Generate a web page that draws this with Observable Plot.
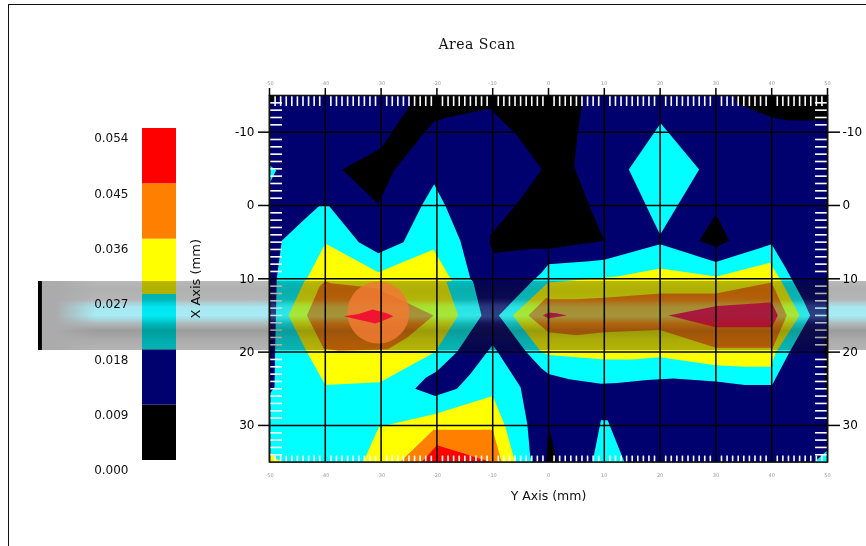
<!DOCTYPE html>
<html>
<head>
<meta charset="utf-8">
<script src="https://cdn.jsdelivr.net/npm/d3@7"></script>
<script src="https://cdn.jsdelivr.net/npm/@observablehq/plot@0.6"></script>
<style>
html,body{margin:0;padding:0;background:#fff;overflow:hidden}
#stage{position:relative;width:866px;height:546px;overflow:hidden;background:#fff;filter:blur(.45px)}
#stage svg{position:absolute;left:0;top:0;background:transparent}
#edge{position:absolute;left:8px;top:4px;right:0;bottom:0;border-left:1.6px solid #111;border-top:1.6px solid #111}
#title{position:absolute;left:0;width:954px;top:36px;text-align:center;font:14px "DejaVu Serif";letter-spacing:.5px;color:#111}
</style>
</head>
<body>
<div id="stage"><div id="edge"></div><div id="title">Area Scan</div></div>
<script>
// ---- data (X = scan axis along the bottom, Y = depth axis)
const levelBreaks = [0, 0.009, 0.018, 0.027, 0.036, 0.045, 0.054];
const levelColors = ["#000000", "#00006e", "#00ffff", "#ffff00", "#ff8000", "#ff0000"];
const majorX = [-50,-40,-30,-20,-10,0,10,20,30,40,50];
const majorY = [-10,0,10,20,30];
const minorX = d3.range(-49,50).filter(d => d % 10 !== 0);
const minorY = d3.range(-14,35).filter(d => d % 10 !== 0);

const blackTop = [[-25,-15],[-24.8,-13.7],[-30,-7.8],[-37,-4.9],[-30.5,-0.2],[-27.8,-4.6],[-22.7,-9.5],[-20.6,-11.4],[-18.2,-12],[-10.5,-13.2],[-5.7,-9.6],[-1.2,-4.9],[-5.7,-0.2],[-10.5,4.1],[-10.5,5.2],[-9.9,6.5],[-2.7,5.9],[0.2,5.9],[4.6,5.4],[10,4.8],[7.3,0],[4.6,-5.3],[5.2,-9.6],[6,-13.7],[6,-15]];
const blackTopRight = [[33,-15],[34.4,-13.7],[40,-12],[43,-11.6],[50,-11.6],[50,-15]];
const blackCorner = [[-50,-15],[-48,-15],[-50,-13.8]];
const blackSmall = [[30,1.2],[27,4.8],[30,5.7],[32.4,4.8]];
const blackFoot = [[0,30],[1.6,35],[-0.4,35]];
const blackEdge = [[49.5,18],[50,18],[50,25],[49.5,25]];

const cyanSpeck = [[-50,-5.5],[-48.8,-4.8],[-50,-3]];
const cyanDiamond = [[20.1,-11.2],[14.4,-4.9],[20,4],[27,-4.9]];
const cyanPeak = [[9.4,29.3],[10.6,29.3],[13.6,35],[7.9,35]];
const cyanCorner = [[47.7,35],[50,33.4],[50,35]];
const cyanLeft = [[-50,25.7],[-49.1,24.8],[-49,20],[-48.7,10],[-47.8,4.8],[-43.9,2],[-41,0],[-39.4,0],[-34,5],[-30.5,6.5],[-26,5],[-22.7,0],[-20.5,-2.9],[-18.5,0],[-15.8,4.8],[-14,10],[-13.5,10.4],[-12,15],[-16.4,20],[-20,22.6],[-22,23.5],[-23.9,25],[-20.3,26],[-16.4,25],[-14,23],[-10,19],[-9.1,20],[-5,24.8],[-3.8,29.8],[-3.3,34],[-3,35],[-50,35]];
const cyanRight = [[-3,10.4],[-1.3,9.2],[0,8],[7.3,7.6],[10,7.4],[20,5.3],[30,7.7],[40,5.3],[42.4,8.4],[45.7,13],[46.9,15],[43.2,20],[40.2,24.3],[40,24.5],[35.2,24.5],[30,24],[22.4,23.6],[17.7,23.8],[12.3,24.2],[9.4,24.3],[3.7,23.7],[0,23],[-1.3,22.2],[-4,20],[-8.9,15]];

const yellowLeft = [[-43.3,10],[-40,5.2],[-30.5,9.1],[-20.6,6],[-17.3,10.3],[-18.3,10.4],[-16.2,15],[-20.3,20],[-30.2,24.1],[-40,24.5],[-43.3,20],[-46.6,15],[-43.8,10.4]];
const yellowRight = [[-6.4,15],[-0.6,10.9],[0,10.5],[12.3,9.7],[20,8.6],[30.1,9.7],[39.7,7.8],[41.7,10.3],[45,15],[40.8,20],[39.8,22],[35.2,22],[29.9,21.8],[20,20.7],[15,21],[10,21],[5,20.7],[0,20.4],[-1.3,20]];
const yellowBottom = [[-33.2,35],[-30.4,30.2],[-20.2,28.4],[-10,26],[-7.8,30],[-6,35]];
const yellowCorner = [[-50,33.6],[-48.9,34.5],[-47.5,35],[-50,35]];

const orangeLeft = [[-40,10.3],[-39,10.6],[-30.8,11.3],[-20.6,15],[-25.3,18],[-28.8,19.6],[-37.6,19.8],[-40.3,19.5],[-43.3,15],[-41,11]];
const orangeRight = [[-3.6,15],[-0.4,12.6],[0,12.8],[5,12.8],[10,12.6],[20,12],[30,12],[40,10.5],[42.7,15],[40.2,19.4],[30,19.4],[24.2,18],[20,17],[10,17.3],[5,17.7],[0,17.3]];
const orangeBottom = [[-26.6,35],[-20.6,30.6],[-10,30.6],[-8.4,35]];

const redLeft = [[-36.7,15.1],[-34,14.8],[-31.5,14.2],[-29,14.7],[-27.8,15.1],[-29,15.5],[-31,16.1],[-34,15.6]];
const redRight = [[21.5,15],[30.2,13.7],[40,13.2],[41.1,15],[40,16.6],[30,16.6]];
const redSmall = [[0,14.6],[1.4,14.7],[3.3,15],[1.4,15.2],[0,15.4],[-1,15]];
const redBottom = [[-22.7,35],[-20,32.7],[-15.3,33.8],[-10.4,35]];

const spot = [{x:-30.5, y:14.6}];
const spotGridX = [-30];
const bandExtent = [{x1:-91.4, x2:57, y1:10.37, y2:19.78}];
const bandCap = [{x1:-91.4, x2:-90.7, y1:10.37, y2:19.78}];
const bandFade = [{x1:-91.4, x2:-81, y1:10.37, y2:19.78}];
const bandOverMap = [{x1:-50, x2:50, y1:10.37, y2:19.78}];

const shared = {width:866, height:546, marginLeft:269, marginRight:39, marginTop:95, marginBottom:84.4,
  style:{fontFamily:"DejaVu Sans", fontSize:"12px", color:"#111", background:"transparent", overflow:"visible"}};
const xScale = {domain:[-50,50], axis:null};
const yScale = {domain:[-15,35], reverse:true, axis:null};
const poly = (pts, fill) => Plot.line(pts, {x:d=>d[0], y:d=>d[1], fill, stroke:"none"});
const intFmt = d => String(d);

// ---- colour key
const levelRows = levelColors.map((color,i)=>({lo:levelBreaks[i], hi:levelBreaks[i+1], color}));
const legend = Plot.plot({
  width:866, height:546, marginLeft:142, marginRight:690, marginTop:128, marginBottom:86,
  style:shared.style,
  x:{domain:[0,1], axis:null},
  y:{domain:[0,0.054], axis:null},
  marks:[
    Plot.rect(levelRows,{x1:()=>0, x2:()=>1, y1:"lo", y2:"hi", fill:"color"}),
    Plot.axisY({anchor:"left", ticks:levelBreaks, tickSize:0, tickPadding:14, dy:10, tickFormat:d3.format(".3f"), fontSize:12, label:null})
  ]
});

// ---- contour map
const chart = Plot.plot({
  ...shared, x:xScale, y:yScale,
  marks:[
    () => d3.create("svg:defs").html(`
      <linearGradient id="wash" x1="0" y1="0" x2="0" y2="1">
        <stop offset="0" stop-color="#f0f0d0" stop-opacity=".02"/><stop offset=".25" stop-color="#f0f0d0" stop-opacity=".06"/>
        <stop offset=".36" stop-color="#f0f0d0" stop-opacity=".25"/><stop offset=".52" stop-color="#f0f0d0" stop-opacity=".3"/>
        <stop offset=".62" stop-color="#f0f0d0" stop-opacity=".1"/><stop offset="1" stop-color="#f0f0d0" stop-opacity=".02"/>
      </linearGradient>`).node(),
    Plot.frame({fill:"#00006e", stroke:"none"}),
    poly(blackTop,"#000"), poly(blackTopRight,"#000"), poly(blackCorner,"#000"), poly(blackSmall,"#000"), poly(blackFoot,"#000"), poly(blackEdge,"#000"),
    poly(cyanLeft,"#00ffff"), poly(cyanRight,"#00ffff"), poly(cyanDiamond,"#00ffff"), poly(cyanPeak,"#00ffff"), poly(cyanSpeck,"#00ffff"), poly(cyanCorner,"#00ffff"),
    poly(yellowLeft,"#ffff00"), poly(yellowRight,"#ffff00"), poly(yellowBottom,"#ffff00"), poly(yellowCorner,"#ffff00"),
    poly(orangeLeft,"#ff8000"), poly(orangeRight,"#ff8000"), poly(orangeBottom,"#ff8000"),
    poly(redBottom,"#ff0000"),
    Plot.rect(bandOverMap,{x1:"x1",x2:"x2",y1:"y1",y2:"y2",fill:"url(#wash)"}),
    poly(redRight,"#ff1c40"), poly(redSmall,"#ff1c40"),
    Plot.gridX(majorX,{stroke:"#000", strokeOpacity:1, strokeWidth:1.5}),
    Plot.gridY(majorY,{stroke:"#000", strokeOpacity:1, strokeWidth:1.5}),
    Plot.axisX({anchor:"top", ticks:minorX, tickSize:-10, stroke:"#fff", strokeWidth:1.6, tickFormat:()=>"", label:null}),
    Plot.axisX({anchor:"bottom", ticks:minorX, tickSize:-6, stroke:"#fff", strokeWidth:1.6, tickFormat:()=>"", label:null}),
    Plot.axisY({anchor:"left", ticks:minorY, tickSize:-13, stroke:"#fff", strokeWidth:1.6, tickFormat:()=>"", label:null}),
    Plot.axisY({anchor:"right", ticks:minorY, tickSize:-13, stroke:"#fff", strokeWidth:1.6, tickFormat:()=>"", label:null}),
    Plot.frame({stroke:"#111", strokeWidth:1.6}),
    Plot.axisX({anchor:"top", ticks:majorX, tickSize:8, tickPadding:3, fontSize:5, fill:"#999", stroke:"#000", strokeWidth:1.5, tickFormat:intFmt, label:null}),
    Plot.axisX({anchor:"bottom", ticks:majorX, tickSize:0, tickPadding:11, fontSize:5, fill:"#999", tickFormat:intFmt, label:null}),
    Plot.axisX({anchor:"bottom", ticks:[], tickSize:0, fontSize:12.5, dx:-5, fill:"#111", label:"Y Axis (mm)", labelAnchor:"center", labelArrow:"none", labelOffset:38}),
    Plot.axisY({anchor:"left", ticks:[], tickSize:0, fontSize:13, fill:"#111", label:"X Axis (mm)", labelAnchor:"center", labelArrow:"none", labelOffset:79}),
    Plot.axisY({anchor:"left", ticks:majorY, tickSize:11, tickPadding:4, tickFormat:intFmt, strokeWidth:1.5, stroke:"#000", fill:"#000", label:null}),
    Plot.axisY({anchor:"right", ticks:majorY, tickSize:12, tickPadding:3, tickFormat:intFmt, strokeWidth:1.5, stroke:"#000", fill:"#000", label:null})
  ]
});

// ---- translucent strip laid over everything (multiplied)
const band = Plot.plot({
  ...shared, x:xScale, y:yScale,
  marks:[
    () => d3.create("svg:defs").html(`
      <linearGradient id="bandV" x1="0" y1="0" x2="0" y2="1">
        <stop offset="0" stop-color="#b8b8b8"/><stop offset=".12" stop-color="#b0b0b0"/>
        <stop offset=".27" stop-color="#b4b6b6"/><stop offset=".33" stop-color="#aed4dc"/>
        <stop offset=".38" stop-color="#a8e6f0"/><stop offset=".5" stop-color="#a8ecf4"/>
        <stop offset=".56" stop-color="#a8d4dc"/><stop offset=".62" stop-color="#b0b8b8"/>
        <stop offset=".72" stop-color="#9c9c9c"/><stop offset=".86" stop-color="#acacac"/>
        <stop offset="1" stop-color="#b4b4b4"/>
      </linearGradient>
      <linearGradient id="bandH" x1="0" y1="0" x2="1" y2="0">
        <stop offset="0" stop-color="#ababab"/><stop offset=".3" stop-color="#ababab"/>
        <stop offset="1" stop-color="#ababab" stop-opacity="0"/>
      </linearGradient>`).node(),
    Plot.rect(bandExtent,{x1:"x1",x2:"x2",y1:"y1",y2:"y2",fill:"url(#bandV)"}),
    Plot.rect(bandFade,{x1:"x1",x2:"x2",y1:"y1",y2:"y2",fill:"url(#bandH)"}),
    Plot.rect(bandCap,{x1:"x1",x2:"x2",y1:"y1",y2:"y2",fill:"#000"})
  ]
});
band.style.mixBlendMode = "multiply";

// ---- bright spot of the strip, over the left lobe
const glow = Plot.plot({
  ...shared, x:xScale, y:yScale,
  marks:[
    Plot.dot(spot,{x:"x", y:"y", r:31, fill:"#f07a32", fillOpacity:0.85, stroke:"none"}),
    poly(redLeft,"#f01432"),
    Plot.ruleX(spotGridX,{y1:()=>10.37, y2:()=>19.78, stroke:"#000", strokeWidth:1.5}),
    Plot.ruleY(majorY.filter(d=>d===20),{x1:()=>-40, x2:()=>-20, stroke:"#000", strokeWidth:1.5})
  ]
});

const stage = document.getElementById("stage");
stage.append(legend, chart, band, glow);
</script>
</body>
</html>
